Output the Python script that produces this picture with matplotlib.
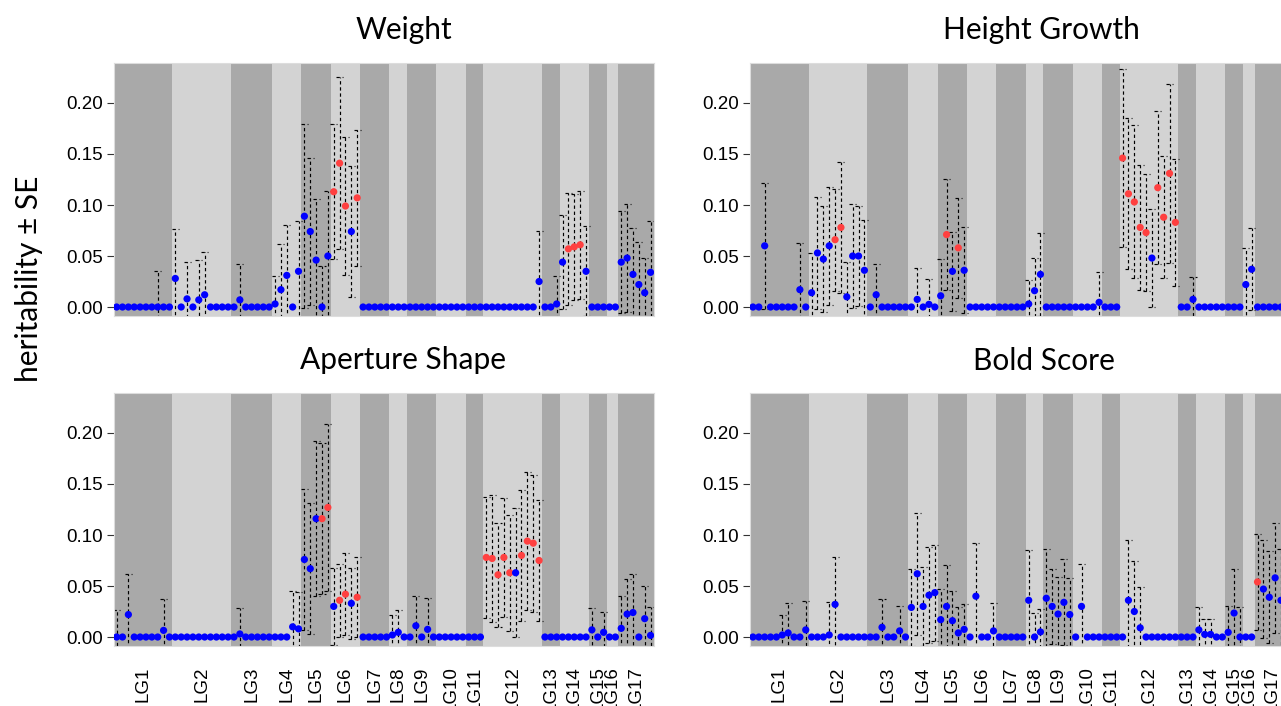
import matplotlib
matplotlib.use('Agg')
import matplotlib.pyplot as plt
import numpy as np

plt.rcParams['lines.scale_dashes'] = False

# ---------------- data ----------------
lg_names = ["LG%d" % k for k in range(1, 18)]
lg_sizes = [10, 10, 7, 5, 5, 5, 5, 3, 5, 5, 3, 10, 3, 5, 3, 2, 6]

titles = ["Weight", "Height Growth", "Aperture Shape", "Bold Score"]
yticks = [0.00, 0.05, 0.10, 0.15, 0.20]

weight_h = [0, 0, 0, 0, 0, 0, 0, 0, 0, 0,
            0.028, 0, 0.008, 0, 0.007, 0.012, 0, 0, 0, 0,
            0, 0.007, 0, 0, 0, 0, 0,
            0.003, 0.017, 0.031, 0, 0.035,
            0.089, 0.074, 0.046, 0, 0.050,
            0.113, 0.141, 0.099, 0.074, 0.107,
            0, 0, 0, 0, 0,
            0, 0, 0,
            0, 0, 0, 0, 0,
            0, 0, 0, 0, 0,
            0, 0, 0,
            0, 0, 0, 0, 0, 0, 0, 0, 0, 0.025,
            0, 0, 0.003,
            0.044, 0.057, 0.059, 0.061, 0.035,
            0, 0, 0,
            0, 0,
            0.044, 0.048, 0.032, 0.022, 0.014, 0.034]
weight_se = [0, 0, 0, 0, 0, 0, 0, 0.035, 0, 0,
             0.048, 0, 0.036, 0, 0.039, 0.042, 0, 0, 0, 0,
             0, 0.035, 0, 0, 0, 0, 0,
             0.027, 0.045, 0.049, 0, 0.049,
             0.090, 0.072, 0.060, 0.040, 0.064,
             0.066, 0.084, 0.068, 0.064, 0.067,
             0, 0, 0, 0, 0,
             0, 0, 0,
             0, 0, 0, 0, 0,
             0, 0, 0, 0, 0,
             0, 0, 0,
             0, 0, 0, 0, 0, 0, 0, 0, 0, 0.050,
             0, 0, 0.027,
             0.046, 0.055, 0.052, 0.053, 0.044,
             0, 0, 0,
             0, 0,
             0.050, 0.053, 0.045, 0.042, 0.034, 0.050]
weight_sig = [37, 38, 39, 41, 77, 78, 79]

height_h = [0, 0, 0.060, 0, 0, 0, 0, 0, 0.017, 0,
            0.014, 0.053, 0.047, 0.060, 0.066, 0.078, 0.010, 0.050, 0.050, 0.036,
            0, 0.012, 0, 0, 0, 0, 0,
            0, 0.0075, 0, 0.0026, 0,
            0.011, 0.071, 0.035, 0.058, 0.036,
            0, 0, 0, 0, 0,
            0, 0, 0, 0, 0,
            0.003, 0.016, 0.032,
            0, 0, 0, 0, 0,
            0, 0, 0, 0, 0.0046,
            0, 0, 0,
            0.146, 0.111, 0.103, 0.078, 0.073, 0.048, 0.117, 0.088, 0.131, 0.083,
            0, 0, 0.0075,
            0, 0, 0, 0, 0,
            0, 0, 0,
            0.022, 0.037,
            0, 0, 0, 0, 0, 0]
height_se = [0, 0, 0.062, 0, 0, 0, 0, 0, 0.046, 0,
             0.039, 0.055, 0.052, 0.058, 0.050, 0.064, 0.034, 0.051, 0.049, 0.049,
             0, 0.030, 0, 0, 0, 0, 0,
             0, 0.031, 0, 0.025, 0,
             0.036, 0.054, 0.039, 0.049, 0.042,
             0, 0, 0, 0, 0,
             0, 0, 0, 0, 0,
             0.023, 0.032, 0.041,
             0, 0, 0, 0, 0,
             0, 0, 0, 0, 0.030,
             0, 0, 0,
             0.087, 0.074, 0.075, 0.061, 0.057, 0.048, 0.075, 0.060, 0.088, 0.062,
             0, 0, 0.022,
             0, 0, 0, 0, 0,
             0, 0, 0,
             0.036, 0.040,
             0, 0, 0, 0, 0, 0]
height_sig = [14, 15, 33, 35, 63, 64, 65, 66, 67, 69, 70, 71, 72]

aperture_h = [0, 0, 0.022, 0, 0, 0, 0, 0, 0.0065, 0,
              0, 0, 0, 0, 0, 0, 0, 0, 0, 0,
              0, 0.003, 0, 0, 0, 0, 0,
              0, 0, 0, 0.010, 0.008,
              0.076, 0.067, 0.116, 0.116, 0.127,
              0.030, 0.036, 0.042, 0.033, 0.039,
              0, 0, 0, 0, 0,
              0.002, 0.0046, 0,
              0, 0.011, 0, 0.0075, 0,
              0, 0, 0, 0, 0,
              0, 0, 0,
              0.078, 0.077, 0.061, 0.078, 0.063, 0.063, 0.080, 0.094, 0.092, 0.075,
              0, 0, 0,
              0, 0, 0, 0, 0,
              0.007, 0, 0.0046,
              0, 0,
              0.0085, 0.0225, 0.024, 0, 0.018, 0.0016]
aperture_se = [0.026, 0, 0.040, 0, 0, 0, 0, 0, 0.031, 0,
               0, 0, 0, 0, 0, 0, 0, 0, 0, 0,
               0, 0.025, 0, 0, 0, 0, 0,
               0, 0, 0, 0.035, 0.036,
               0.069, 0.064, 0.076, 0.074, 0.082,
               0.038, 0.036, 0.040, 0.035, 0.039,
               0, 0, 0, 0, 0,
               0.020, 0.022, 0,
               0, 0.029, 0, 0.031, 0,
               0, 0, 0, 0, 0,
               0, 0, 0,
               0.059, 0.062, 0.051, 0.058, 0.057, 0.063, 0.064, 0.068, 0.067, 0.059,
               0, 0, 0,
               0, 0, 0, 0, 0,
               0.021, 0, 0.020,
               0, 0,
               0.032, 0.034, 0.038, 0, 0.032, 0.028]
aperture_sig = [35, 36, 38, 39, 41, 63, 64, 65, 66, 67, 69, 70, 71, 72]

bold_h = [0, 0, 0, 0, 0, 0.002, 0.004, 0, 0, 0.007,
          0, 0, 0, 0.002, 0.032, 0, 0, 0, 0, 0,
          0, 0, 0.0095, 0, 0, 0.006, 0,
          0.029, 0.062, 0.030, 0.041, 0.0435,
          0.017, 0.030, 0.016, 0.004, 0.0075,
          0, 0.040, 0, 0, 0.006,
          0, 0, 0, 0, 0,
          0.036, 0, 0.005,
          0.038, 0.030, 0.0225, 0.034, 0.022,
          0, 0.030, 0, 0, 0,
          0, 0, 0,
          0, 0.036, 0.025, 0.009, 0, 0, 0, 0, 0, 0,
          0, 0, 0,
          0.007, 0.0026, 0.0026, 0, 0,
          0.0046, 0.0235, 0,
          0, 0,
          0.054, 0.047, 0.039, 0.058, 0.036, 0.030]
bold_se = [0, 0, 0, 0, 0, 0.020, 0.029, 0, 0, 0.028,
           0, 0, 0, 0.032, 0.046, 0, 0, 0, 0, 0,
           0, 0, 0.028, 0, 0, 0.024, 0,
           0.038, 0.060, 0.039, 0.047, 0.047,
           0.030, 0.041, 0.029, 0.025, 0.025,
           0, 0.052, 0, 0, 0.027,
           0, 0, 0, 0, 0,
           0.049, 0.024, 0.022,
           0.048, 0.037, 0.036, 0.042, 0.036,
           0, 0.042, 0, 0, 0,
           0, 0, 0,
           0, 0.059, 0.050, 0.040, 0, 0, 0, 0, 0, 0,
           0, 0, 0,
           0.022, 0.015, 0.015, 0, 0,
           0.026, 0.043, 0.029,
           0, 0,
           0.047, 0.048, 0.045, 0.054, 0.050, 0.050]
bold_sig = [86]

panels = [(weight_h, weight_se, weight_sig),
          (height_h, height_se, height_sig),
          (aperture_h, aperture_se, aperture_sig),
          (bold_h, bold_se, bold_sig)]

# ---------------- style ----------------
DARK = '#A9A9A9'
LIGHT = '#D3D3D3'
BLUE = '#0000FF'
RED = '#FF4040'
TICKFONT = 'Liberation Sans'
TITLEFONT = ['Lato', 'DejaVu Sans']

W, H = 1281.0, 706.0
fig = plt.figure(figsize=(W / 100, H / 100), dpi=100)

# axes boxes in pixels: (x0, ytop, x1, ybottom)
boxes = [(113.7, 63.0, 653.5, 316.4),
         (750.0, 63.0, 1289.8, 316.4),
         (113.7, 393.0, 653.5, 646.4),
         (750.0, 393.0, 1289.8, 646.4)]
title_pos = [(404, 38.5), (1041, 38.5), (403, 369.5), (1044, 369.5)]

n_mark = sum(lg_sizes)
ends = np.cumsum(lg_sizes)
starts = ends - np.array(lg_sizes)
centers = (starts + ends - 1) / 2.0

for p, ((h, se, sig), (x0, yt, x1, yb)) in enumerate(zip(panels, boxes)):
    ax = fig.add_axes([x0 / W, 1 - yb / H, (x1 - x0) / W, (yb - yt) / H])
    ax.set_xlim(-0.5, n_mark - 0.5)
    ax.set_ylim(-0.0092, 0.2392)
    for k, (s, e) in enumerate(zip(starts, ends)):
        ax.axvspan(s - 0.5, e - 0.5, color=DARK if k % 2 == 0 else LIGHT,
                   lw=0, zorder=0)
    h = np.array(h, float)
    se = np.array(se, float)
    x = np.arange(n_mark)
    for i in range(n_mark):
        if se[i] > 0:
            lo, hi = h[i] - se[i], h[i] + se[i]
            ax.plot([i, i], [lo, hi], color='black', lw=0.85,
                    dashes=(2.4, 2.0), zorder=2)
            for yy in (lo, hi):
                ax.plot([i - 0.6, i + 0.6], [yy, yy], color='black', lw=0.85,
                        dashes=(2.4, 2.0), zorder=2)
    cols = [RED if i in sig else BLUE for i in range(n_mark)]
    ax.scatter(x, h, s=27, c=cols, linewidths=0, zorder=3)

    ax.set_yticks(yticks)
    ax.set_yticklabels(["%.2f" % v for v in yticks], fontfamily=TICKFONT)
    ax.tick_params(axis='y', length=4.8, width=0.8, color='#333333', pad=3,
                   labelsize=13.5)
    if p >= 2:
        ax.set_xticks(centers)
        ax.set_xticklabels(lg_names, rotation=90, fontfamily=TICKFONT)
        ax.tick_params(axis='x', length=0, pad=14.5, labelsize=13.5)
    else:
        ax.set_xticks([])
    for sp in ax.spines.values():
        sp.set_color('#DDDDDD')
        sp.set_linewidth(0.8)

    tx, ty = title_pos[p]
    fig.text(tx / W, 1 - ty / H, titles[p], ha='center', va='baseline',
             fontsize=21.5, family=TITLEFONT)

fig.text(29 / W, 1 - 382 / H, "heritability \u00b1 SE", rotation=90,
         ha='center', va='bottom', fontsize=21.5, family=TITLEFONT)

fig.savefig('out.png', dpi=100)
